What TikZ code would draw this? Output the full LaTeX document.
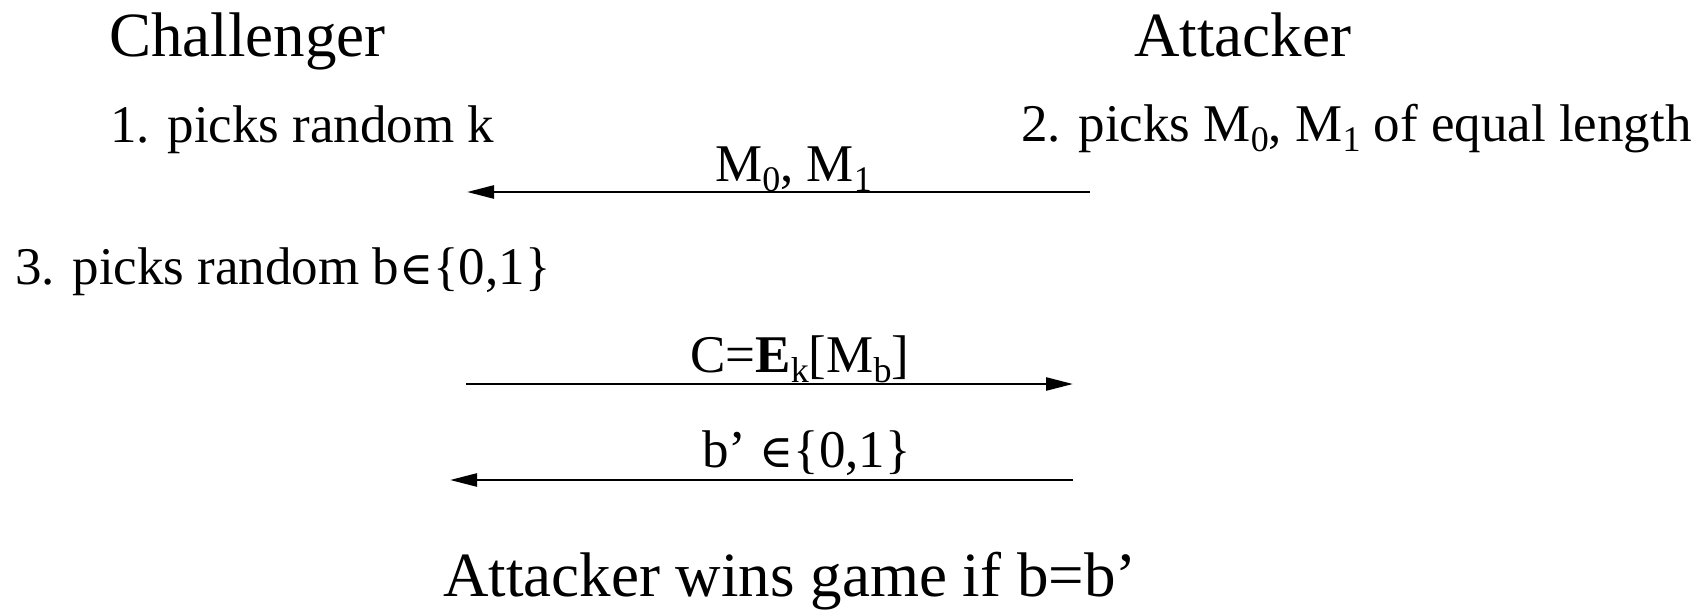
\documentclass[tikz,border=0pt]{standalone}
\usepackage{fontspec}
\setmainfont{Liberation Serif}
\newfontfamily\symf{DejaVu Serif}
\usetikzlibrary{arrows.meta}
\newcommand{\hdfnt}{\fontsize{63}{72}\selectfont}
\newcommand{\nmfnt}{\fontsize{53}{60}\selectfont}
\newcommand{\lowsub}[1]{\raisebox{-10pt}{\fontsize{36}{40}\selectfont #1}}
\newcommand{\elem}{{\symf\fontsize{46}{50}\selectfont ∈}}
\tikzset{
  txt/.style={anchor=base west, inner sep=0pt, font=\nmfnt},
  head/.style={txt, font=\hdfnt},
  msg/.style={line width=2.5pt, -{Triangle[length=27pt,width=13pt]}}
}
\begin{document}
\begin{tikzpicture}[x=1pt,y=-1pt]
\useasboundingbox (0,0) rectangle (1702,610);
% headings
\node[head] (chal) at (109,57) {Challenger};
\node[head] (att) at (1134,57) {Attacker};
% steps
\node[txt] (s1) at (110,142) {1. picks random k};
\node[txt] (s2) at (1021,141) {2. picks M\lowsub{0}, M\lowsub{1} of equal length};
\node[txt] (s3) at (15,284) {3. picks random b\elem\{0,1\}};
% message 1
\coordinate (m1s) at (1090,192);
\coordinate (m1e) at (467,192);
\draw[msg] (m1s) -- (m1e);
\node[txt] (l1) at (715,181) {M\lowsub{0}, M\lowsub{1}};
% message 2
\coordinate (m2s) at (466,384);
\coordinate (m2e) at (1073,384);
\draw[msg] (m2s) -- (m2e);
\node[txt] (l2) at (690,372) {C=\textbf{E}\lowsub{k}[M\lowsub{b}]};
% message 3
\coordinate (m3s) at (1073,480);
\coordinate (m3e) at (450,480);
\draw[msg] (m3s) -- (m3e);
\node[txt] (l3) at (702,467) {b’ \elem\{0,1\}};
% result
\node[head] (res) at (443,596) {Attacker wins game if b=b’};
\end{tikzpicture}
\end{document}
